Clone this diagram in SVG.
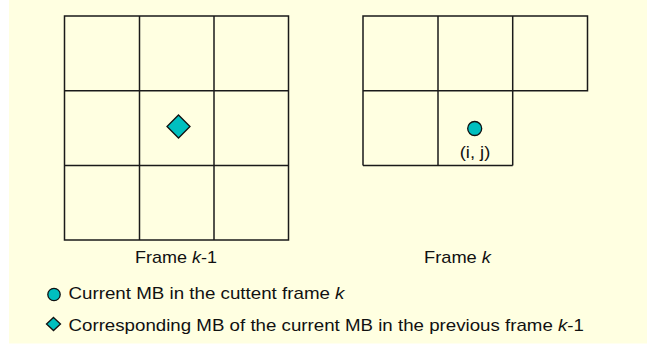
<svg xmlns="http://www.w3.org/2000/svg" width="647" height="349" viewBox="0 0 647 349">
<style>
.cell{fill:none;stroke:#1a1a1a;stroke-width:1.5}
.mark{fill:#00BFBF;stroke:#111;stroke-width:1.3}
text{font-family:"Liberation Sans",Arial,sans-serif;font-size:17px;fill:#111}
.it{font-style:italic}
</style>
<rect x="0" y="0" width="647" height="349" fill="#ffffff"/>
<rect x="9" y="0" width="638" height="343.5" fill="#FFFFE1"/>
<g id="frame-k-1">
<rect class="cell" x="64.5" y="16" width="224" height="224"/>
<line class="cell" x1="139.5" y1="16" x2="139.5" y2="240"/>
<line class="cell" x1="214" y1="16" x2="214" y2="240"/>
<line class="cell" x1="64.5" y1="90.7" x2="288.5" y2="90.7"/>
<line class="cell" x1="64.5" y1="165.5" x2="288.5" y2="165.5"/>
<polygon class="mark" points="178.5,115 190,126.5 178.5,138 167,126.5"/>
<text x="176" y="262.5" text-anchor="middle" textLength="82" lengthAdjust="spacingAndGlyphs">Frame <tspan class="it">k</tspan>-1</text>
</g>
<g id="frame-k">
<polyline class="cell" points="363,165.5 363,16 587.5,16 587.5,90.7 363,90.7"/>
<line class="cell" x1="438" y1="16" x2="438" y2="165.5"/>
<line class="cell" x1="512.7" y1="16" x2="512.7" y2="165.5"/>
<line class="cell" x1="363" y1="165.5" x2="512.7" y2="165.5"/>
<circle class="mark" cx="474.7" cy="128.5" r="7"/>
<text x="475" y="157.5" text-anchor="middle" textLength="30.5" lengthAdjust="spacingAndGlyphs">(i, j)</text>
<text x="457.5" y="262.5" text-anchor="middle" textLength="67" lengthAdjust="spacingAndGlyphs">Frame <tspan class="it">k</tspan></text>
</g>
<g id="legend">
<circle class="mark" cx="54" cy="294.5" r="6.2"/>
<text x="68.5" y="298.5" textLength="276" lengthAdjust="spacingAndGlyphs">Current MB in the cuttent frame <tspan class="it">k</tspan></text>
<polygon class="mark" points="53.5,317.5 60.5,324 53.5,330.5 46.5,324"/>
<text x="68.5" y="330.5" textLength="515.5" lengthAdjust="spacingAndGlyphs">Corresponding MB of the current MB in the previous frame <tspan class="it">k</tspan>-1</text>
</g>
<g id="connectors"></g>
</svg>
